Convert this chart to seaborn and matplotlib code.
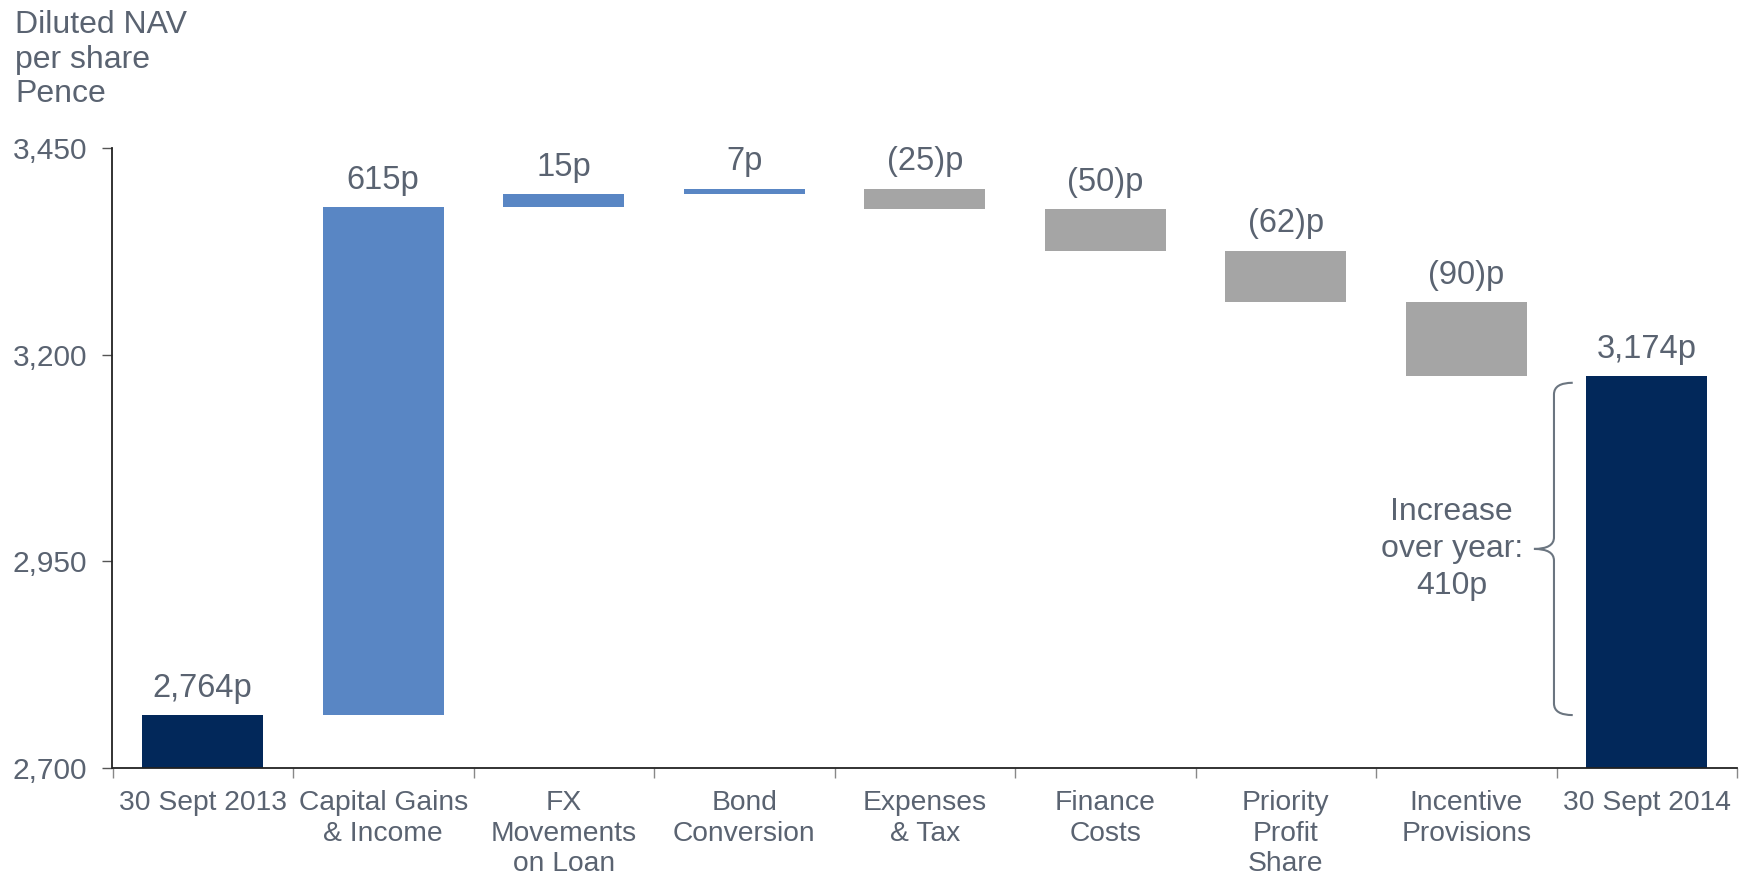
import matplotlib
matplotlib.use("Agg")
import matplotlib.pyplot as plt
from matplotlib.path import Path
from matplotlib.patches import PathPatch
from matplotlib.ticker import FixedLocator, FuncFormatter
import seaborn as sns
import numpy as np

# NAV bridge, pence per share
categories = ["30 Sept 2013", "Capital Gains\n& Income", "FX\nMovements\non Loan",
              "Bond\nConversion", "Expenses\n& Tax", "Finance\nCosts",
              "Priority\nProfit\nShare", "Incentive\nProvisions", "30 Sept 2014"]
changes = [2764, 615, 15, 7, -25, -50, -62, -90, 3174]
labels = ["2,764p", "615p", "15p", "7p", "(25)p", "(50)p", "(62)p", "(90)p", "3,174p"]
kinds = ["total", "up", "up", "up", "down", "down", "down", "down", "total"]
y_ticks = [2700, 2950, 3200, 3450]
increase = 410

NAVY = "#02285A"
BLUE = "#5986C4"
GREY = "#A5A5A5"
TEXT = "#5A6371"
colour_for = {"total": NAVY, "up": BLUE, "down": GREY}

# floating bar geometry
bottoms, heights = [], []
running = 0
for v, k in zip(changes, kinds):
    if k == "total":
        bottoms.append(0)
        heights.append(v)
        running = v
    else:
        bottoms.append(running)
        heights.append(v)
        running += v

sns.set_style("white")
plt.rcParams["font.family"] = ["Liberation Sans", "DejaVu Sans"]

fig = plt.figure(figsize=(17.46, 8.80), dpi=100)
ax = fig.add_axes([112.5 / 1746, 1 - 768 / 880, (1737 - 112.5) / 1746, (768 - 148) / 880])

sns.barplot(x=categories, y=heights, bottom=bottoms, width=0.67, color=NAVY,
            saturation=1, ax=ax, linewidth=0)
for patch, k in zip(ax.patches, kinds):
    patch.set_facecolor(colour_for[k])
    patch.set_edgecolor("none")

ax.set_ylim(2700, 3450)
ax.set_xlim(-0.5, len(categories) - 0.5)

# value labels above the upper edge of each bar
for i, (b, h, lab) in enumerate(zip(bottoms, heights, labels)):
    top = max(b, b + h)
    ax.annotate(lab, xy=(i, top), xytext=(0, 13), textcoords="offset points",
                ha="center", va="baseline", fontsize=23.5, color=TEXT)

# axes styling
for side in ["top", "right"]:
    ax.spines[side].set_visible(False)
for side in ["left", "bottom"]:
    ax.spines[side].set_color("#222222")
    ax.spines[side].set_linewidth(1.3)

ax.yaxis.set_major_locator(FixedLocator(y_ticks))
ax.yaxis.set_major_formatter(FuncFormatter(lambda v, p: f"{v:,.0f}"))
ax.tick_params(axis="y", which="major", left=True, length=7, width=1.0,
               color="#555555", labelsize=21.5, labelcolor=TEXT, pad=11)

ax.set_xticks(np.arange(len(categories)))
ax.set_xticklabels(categories, fontsize=20.3, color=TEXT, linespacing=1.23,
                   ha="center", va="top")
ax.tick_params(axis="x", which="major", length=0, pad=16)
ax.set_xticks(np.arange(len(categories) + 1) - 0.5, minor=True)
ax.tick_params(axis="x", which="minor", bottom=True, length=7, width=1.0,
               color="#888888")
ax.set_xlabel("")
ax.set_ylabel("")

# curly brace marking the year's increase
y_top = changes[-1] - 8
y_bot = changes[0]
y_mid = (y_top + y_bot) / 2
x_end, x_v, x_tip = 7.59, 7.486, 7.375
r = 14
verts = [
    (x_end, y_top), (x_v, y_top), (x_v, y_top - r),
    (x_v, y_mid + r),
    (x_v, y_mid), (x_tip, y_mid),
    (x_v, y_mid), (x_v, y_mid - r),
    (x_v, y_bot + r),
    (x_v, y_bot), (x_end, y_bot),
]
codes = [Path.MOVETO, Path.CURVE3, Path.CURVE3,
         Path.LINETO,
         Path.CURVE3, Path.CURVE3,
         Path.CURVE3, Path.CURVE3,
         Path.LINETO,
         Path.CURVE3, Path.CURVE3]
ax.add_patch(PathPatch(Path(verts, codes), facecolor="none", edgecolor="#6B7580",
                       linewidth=1.5, clip_on=False))
ax.text(6.92, y_mid, f"Increase\nover year:\n{increase}p", ha="center", va="center",
        fontsize=23, color=TEXT, linespacing=1.32)

fig.text(15 / 1746, 1 - 10 / 880, "Diluted NAV\nper share\nPence", ha="left", va="top",
         fontsize=23, color=TEXT, linespacing=1.2)

fig.savefig("out.png", dpi=100)
